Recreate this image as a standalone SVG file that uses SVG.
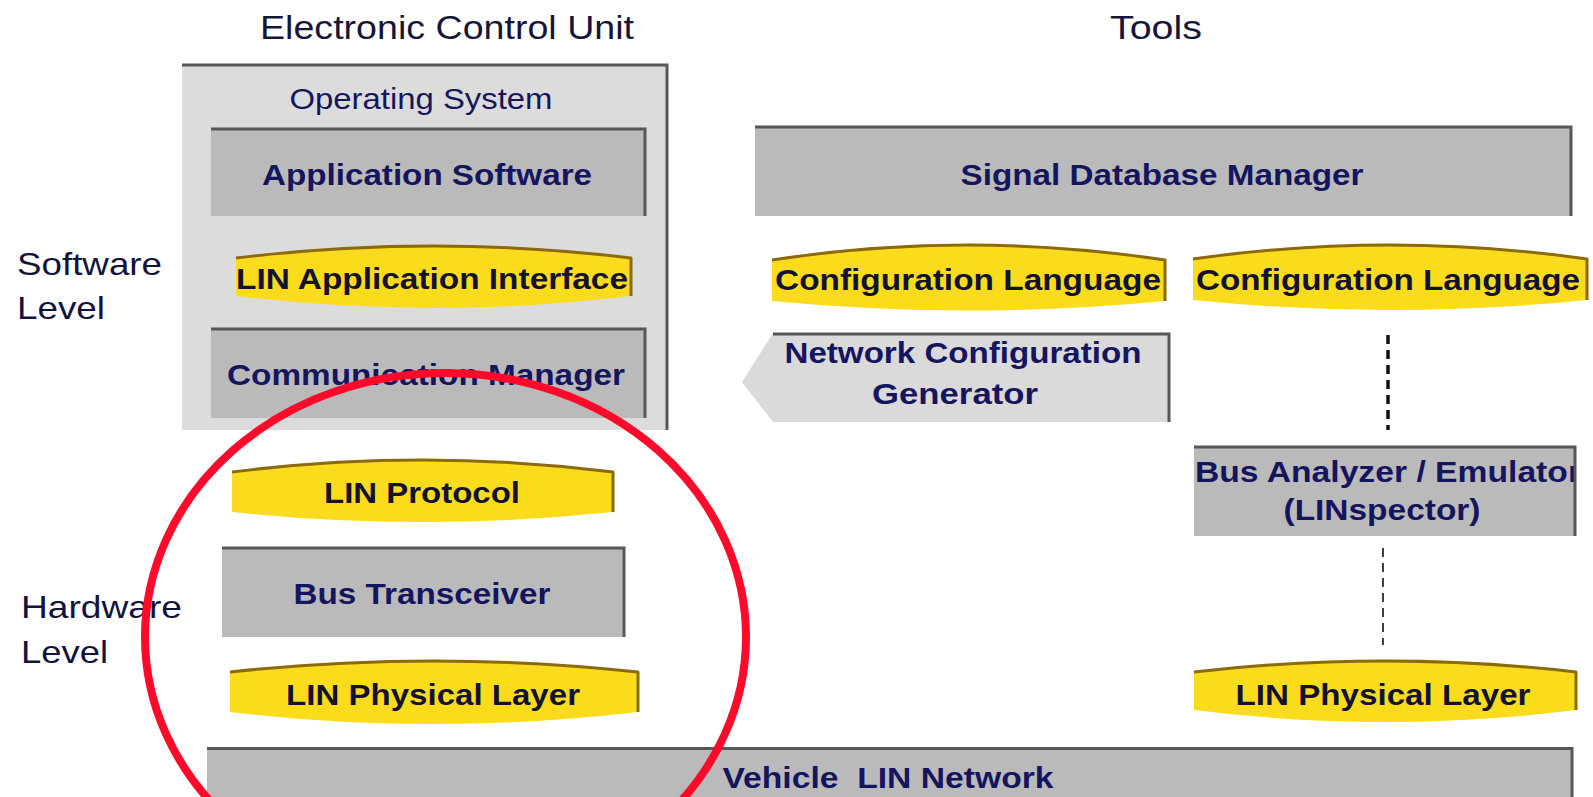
<svg xmlns="http://www.w3.org/2000/svg" width="1593" height="797" viewBox="0 0 1593 797">
  <defs>
    <style>
      .title { font-family: "Liberation Sans", Arial, sans-serif; font-size: 34px; fill: #15153a; text-anchor: middle; }
      .side { font-family: "Liberation Sans", Arial, sans-serif; font-size: 32px; fill: #12123c; }
      .os { font-family: "Liberation Sans", Arial, sans-serif; font-size: 29px; fill: #16165e; text-anchor: middle; }
      .lbl { font-family: "Liberation Sans", Arial, sans-serif; font-size: 30px; font-weight: bold; fill: #15155f; text-anchor: middle; }
      .ylbl { font-family: "Liberation Sans", Arial, sans-serif; font-size: 30px; font-weight: bold; fill: #121230; text-anchor: middle; }
      .box { fill: #bababa; }
      .pane { fill: #dcdcdc; }
      .edge { fill: none; stroke: #575757; stroke-width: 3; }
      .band { fill: #fbdc1c; }
      .rim { fill: none; stroke: #8c6a08; stroke-width: 3; stroke-linejoin: round; }
      .dash1 { stroke: #111; stroke-width: 3.5; stroke-dasharray: 9 6; }
      .dash2 { stroke: #111; stroke-width: 1.6; stroke-dasharray: 9 6; }
      .ring { fill: none; stroke: #ff0a2a; stroke-width: 8; }
    </style>
    <clipPath id="clipAnalyzer">
      <rect x="1194" y="446" width="380" height="90"/>
    </clipPath>
  </defs>

  <rect width="1593" height="797" fill="#ffffff"/>

  <!-- column titles and level labels -->
  <text class="title" x="447" y="39" textLength="374" lengthAdjust="spacingAndGlyphs">Electronic Control Unit</text>
  <text class="title" x="1156" y="39" textLength="92" lengthAdjust="spacingAndGlyphs">Tools</text>
  <text class="side" x="17" y="275" textLength="145" lengthAdjust="spacingAndGlyphs">Software</text>
  <text class="side" x="17" y="319" textLength="88" lengthAdjust="spacingAndGlyphs">Level</text>
  <text class="side" x="21" y="618" textLength="161" lengthAdjust="spacingAndGlyphs">Hardware</text>
  <text class="side" x="21" y="663" textLength="87" lengthAdjust="spacingAndGlyphs">Level</text>

  <!-- ECU operating system container -->
  <g id="operating-system">
    <rect class="pane" x="182" y="64" width="486" height="366"/>
    <path class="edge" d="M182,65 H667 V430"/>
    <text class="os" x="421" y="109" textLength="263" lengthAdjust="spacingAndGlyphs">Operating System</text>
  </g>

  <g id="application-software">
    <rect class="box" x="211" y="128" width="435" height="88"/>
    <path class="edge" d="M211,129 H645 V216"/>
    <text class="lbl" x="427" y="185" textLength="330" lengthAdjust="spacingAndGlyphs">Application Software</text>
  </g>

  <g id="lin-application-interface">
    <path class="band" d="M236,258 Q433,234 631,258 V296 Q433,320 236,296 Z"/>
    <path class="rim" d="M236,258 Q433,234 631,258 V296"/>
    <text class="ylbl" x="432" y="289" textLength="392" lengthAdjust="spacingAndGlyphs">LIN Application Interface</text>
  </g>

  <g id="communication-manager">
    <rect class="box" x="211" y="328" width="435" height="90"/>
    <path class="edge" d="M211,329 H645 V418"/>
    <text class="lbl" x="426" y="385" textLength="398" lengthAdjust="spacingAndGlyphs">Communication Manager</text>
  </g>

  <g id="lin-protocol">
    <path class="band" d="M232,472 Q422,448 613,472 V512 Q422,532 232,512 Z"/>
    <path class="rim" d="M232,472 Q422,448 613,472 V512"/>
    <text class="ylbl" x="422" y="503" textLength="196" lengthAdjust="spacingAndGlyphs">LIN Protocol</text>
  </g>

  <g id="bus-transceiver">
    <rect class="box" x="222" y="547" width="403" height="90"/>
    <path class="edge" d="M222,548 H624 V637"/>
    <text class="lbl" x="422" y="604" textLength="257" lengthAdjust="spacingAndGlyphs">Bus Transceiver</text>
  </g>

  <g id="lin-physical-layer-ecu">
    <path class="band" d="M230,672 Q434,650 638,672 V712 Q434,736 230,712 Z"/>
    <path class="rim" d="M230,672 Q434,650 638,672 V712"/>
    <text class="ylbl" x="433" y="705" textLength="294" lengthAdjust="spacingAndGlyphs">LIN Physical Layer</text>
  </g>

  <!-- tool chain -->
  <g id="signal-database-manager">
    <rect class="box" x="755" y="126" width="817" height="90"/>
    <path class="edge" d="M755,127 H1571 V216"/>
    <text class="lbl" x="1162" y="185" textLength="403" lengthAdjust="spacingAndGlyphs">Signal Database Manager</text>
  </g>

  <g id="configuration-language-generator">
    <path class="band" d="M772,260 Q968,230 1165,260 V301 Q968,320 772,301 Z"/>
    <path class="rim" d="M772,260 Q968,230 1165,260 V301"/>
    <text class="ylbl" x="968" y="290" textLength="386" lengthAdjust="spacingAndGlyphs">Configuration Language</text>
  </g>

  <g id="configuration-language-analyzer">
    <path class="band" d="M1193,259 Q1390,231 1587,259 V300 Q1390,320 1193,300 Z"/>
    <path class="rim" d="M1193,259 Q1390,231 1587,259 V300"/>
    <text class="ylbl" x="1388" y="290" textLength="384" lengthAdjust="spacingAndGlyphs">Configuration Language</text>
  </g>

  <g id="network-configuration-generator">
    <path fill="#dadada" d="M742,382 L773,333 H1170 V422 H773 Z"/>
    <path class="edge" d="M773,334 H1169 V422"/>
    <text class="lbl" x="963" y="363" textLength="357" lengthAdjust="spacingAndGlyphs">Network Configuration</text>
    <text class="lbl" x="955" y="404" textLength="166" lengthAdjust="spacingAndGlyphs">Generator</text>
  </g>

  <g id="bus-analyzer">
    <rect class="box" x="1194" y="446" width="382" height="90"/>
    <g clip-path="url(#clipAnalyzer)">
      <text class="lbl" x="1388" y="482" textLength="386" lengthAdjust="spacingAndGlyphs">Bus Analyzer / Emulator</text>
    </g>
    <path class="edge" d="M1194,447 H1575 V536"/>
    <text class="lbl" x="1382" y="520" textLength="197" lengthAdjust="spacingAndGlyphs">(LINspector)</text>
  </g>

  <g id="lin-physical-layer-tool">
    <path class="band" d="M1194,672 Q1385,650 1576,672 V710 Q1385,734 1194,710 Z"/>
    <path class="rim" d="M1194,672 Q1385,650 1576,672 V710"/>
    <text class="ylbl" x="1383" y="705" textLength="295" lengthAdjust="spacingAndGlyphs">LIN Physical Layer</text>
  </g>

  <g id="vehicle-lin-network">
    <rect class="box" x="207" y="747" width="1366" height="55"/>
    <path class="edge" d="M207,748.5 H1572 V800"/>
    <text class="lbl" x="888" y="788" textLength="331" lengthAdjust="spacingAndGlyphs" style="white-space:pre">Vehicle  LIN Network</text>
  </g>

  <!-- dashed links between tool layers -->
  <g id="connectors">
    <line class="dash1" x1="1388" y1="335" x2="1388" y2="430"/>
    <line class="dash2" x1="1383" y1="548" x2="1383" y2="645"/>
  </g>

  <!-- highlight ring around the ECU hardware stack -->
  <g id="highlight">
    <ellipse class="ring" cx="445.5" cy="637" rx="300.5" ry="264"/>
  </g>
</svg>
